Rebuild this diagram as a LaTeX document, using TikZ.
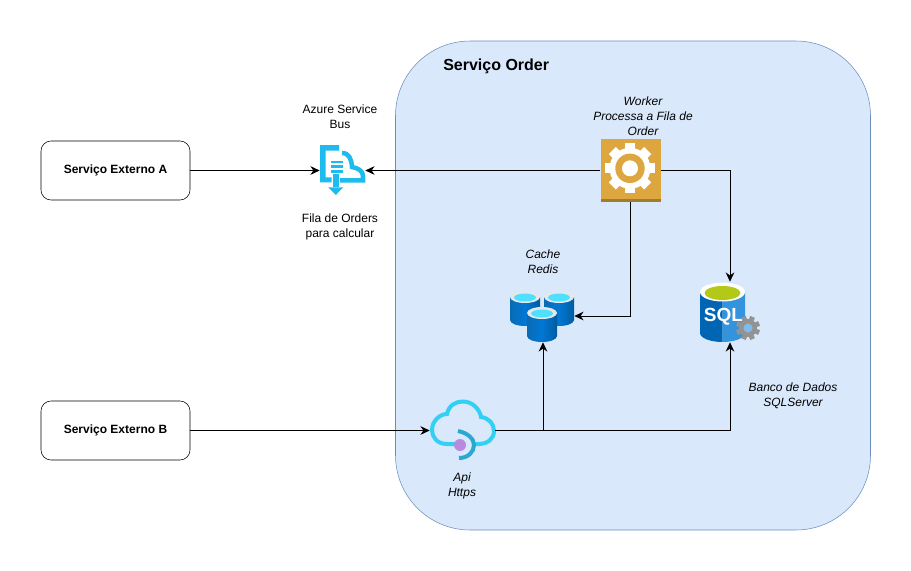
\documentclass[tikz,border=0pt]{standalone}
\usepackage{fontspec}
\setmainfont{Liberation Sans}
\usepackage{tikz}
\usetikzlibrary{arrows.meta}

\definecolor{orderfill}{HTML}{DAE8FC}
\definecolor{orderline}{HTML}{6C8EBF}
\definecolor{busblue}{HTML}{1EBBEE}
\definecolor{workergold}{HTML}{DDA63F}
\definecolor{workerdark}{HTML}{A07C30}
\definecolor{cloudblue}{HTML}{32D0F3}
\definecolor{clouddark}{HTML}{29A8D0}
\definecolor{dbleft}{HTML}{0A6AB5}
\definecolor{dbmid}{HTML}{0078D4}
\definecolor{dbright}{HTML}{005BA1}
\definecolor{dbrim}{HTML}{E4E8EA}
\definecolor{dbtop}{HTML}{50E0FF}
\definecolor{sqltop}{HTML}{B4C818}
\definecolor{apidot}{HTML}{B98AE0}

\tikzset{
	servicebox/.style={draw=black, fill=white, rounded corners=7.5pt, minimum width=111.75pt, minimum height=44.25pt, text depth=2.7pt, font=\fontsize{9}{11}\selectfont\bfseries},
	caption/.style={align=center, inner sep=0pt, font=\fontsize{9}{11.25}\selectfont},
	captionit/.style={caption, font=\fontsize{9}{11.25}\selectfont\itshape},
	flow/.style={draw=black, line width=0.75pt, -{Stealth[length=7pt,width=6.5pt]}}
}

\begin{document}
\begin{tikzpicture}[x=0.75pt, y=-0.75pt]
	\useasboundingbox (0,0) rectangle (911,571);
	\fill [white] (0,0) rectangle (911,571);
	\draw [draw=orderline, fill=orderfill, rounded corners=56pt] (395.5,41) rectangle (870.5,530);
	\node [anchor=west, inner sep=0pt, font=\fontsize{12}{14}\selectfont\bfseries] (ordertitle) at (443,66.5) {Serviço Order};

	% service bus
	\fill [busblue] (320,145) -- (339,145) -- (339,150.7) -- (325.7,150.7) -- (325.7,177.3) -- (331.7,177.3) -- (331.7,182.3) -- (320,182.3) -- cycle;
	\fill [busblue] (330.7,160.7) rectangle (342.7,163.3);
	\fill [busblue] (330.7,165.4) rectangle (342.7,168);
	\fill [busblue] (330.7,170) rectangle (342.7,172.7);
	\fill [busblue] (333.3,174) rectangle (339.3,187.3);
	\fill [busblue] (328.3,187.3) -- (343.3,187.3) -- (335.8,195) -- cycle;
	\draw [busblue, line width=3.4pt] (342,153) .. controls (349,153) and (351.5,159) .. (352,167) .. controls (358,168) and (363,171) .. (363,176) -- (363,180.3) -- (340,180.3);
	\node [minimum width=33.75pt, minimum height=37.5pt, inner sep=0pt] (busicon) at (342.5,170.5) {};

	% worker
	\fill [workergold] (600.5,139) rectangle (660.5,199);
	\fill [workerdark] (600.5,199) rectangle (660.5,202);
	\fill [white] (630,168.3) circle (20.5);
	\foreach \a in {0,45,...,315}
		\fill [white, rotate around={\a:(630,168.3)}] (625,143.3) rectangle (635,155);
	\fill [workergold] (630,168.3) circle (14.7);
	\fill [white] (630,168.3) circle (8);
	\node [minimum width=45pt, minimum height=47.25pt, inner sep=0pt] (workericon) at (630.5,170.5) {};

	% cache
	\foreach \cx/\cy in {510/291, 544/291, 527/307} {
		\shade [left color=dbleft, right color=dbright, middle color=dbmid] (\cx,\cy+6) -- (\cx,\cy+29) arc [start angle=180, end angle=0, x radius=15, y radius=6] -- (\cx+30,\cy+6) -- cycle;
		\fill [dbrim] (\cx+15,\cy+6) circle [x radius=15, y radius=6];
		\fill [dbtop] (\cx+15,\cy+6.5) circle [x radius=11, y radius=4];
	}
	\node [minimum width=46.5pt, minimum height=39pt, inner sep=0pt] (cacheicon) at (543,316) {};

	% sql
	\fill [dbmid!85!black] (700,292) -- (700,333) arc [start angle=180, end angle=90, x radius=22.5, y radius=9] -- (722.5,292) -- cycle;
	\fill [dbmid!80!white] (722.5,292) -- (722.5,342) arc [start angle=90, end angle=0, x radius=22.5, y radius=9] -- (745,292) -- cycle;
	\fill [white] (722.5,292) circle [x radius=22.5, y radius=9.5];
	\fill [sqltop] (722.5,293) circle [x radius=18, y radius=7];
	\node [inner sep=0pt, text=white, font=\fontsize{14.25}{16}\selectfont\bfseries] (sqltext) at (723.5,317) {SQL};
	\fill [gray!85] (748,328) circle (9);
	\foreach \a in {0,45,...,315}
		\fill [gray!85, rotate around={\a+22.5:(748,328)}] (745.5,316) rectangle (750.5,321);
	\fill [dbmid!50!white] (748,328) circle (4.5);
	\node [minimum width=45pt, minimum height=45pt, inner sep=0pt] (sqlicon) at (730,312) {};

	% api
	\draw [cloudblue, line width=3pt] (455,444) -- (447,444) .. controls (437,444) and (432,437) .. (432,430) .. controls (432,421) and (440,414) .. (447,414) .. controls (449,405) and (456,401.5) .. (463,401.5) .. controls (473,401.5) and (480,410) .. (481,417) .. controls (489,418) and (494,424) .. (494,431) .. controls (494,439) and (487,444) .. (480,444) -- (474,444);
	\draw [clouddark, line width=3pt] (458,431) .. controls (468,433) and (474,439) .. (474,445) .. controls (474,452) and (468,458) .. (459,458);
	\fill [apidot] (460,445) circle (6);
	\node [minimum width=48.75pt, minimum height=45pt, inner sep=0pt] (apiicon) at (462.5,430.5) {};

	\node [servicebox] (externoa) at (115.5,170.5) {Serviço Externo A};
	\node [servicebox] (externob) at (115.5,430.5) {Serviço Externo B};

	\node [caption] (buslabel) at (340,116.5) {Azure Service\\Bus};
	\node [caption] (filalabel) at (340,226.5) {Fila de Orders\\para calcular};
	\node [captionit] (workerlabel) at (643,116) {Worker\\Processa a Fila de\\Order};
	\node [captionit] (cachelabel) at (543,261.5) {Cache\\Redis};
	\node [captionit] (sqllabel) at (793,396) {Banco de Dados\\SQLServer};
	\node [captionit] (apilabel) at (462,486) {Api\\Https};

	\draw [flow] (externoa.east) -- (busicon.west);
	\draw [flow] (workericon.west) -- (busicon.east);
	\draw [flow] (workericon.east) -| (sqlicon.north);
	\draw [flow] (workericon.south) |- (cacheicon.east);
	\draw [flow] (externob.east) -- (apiicon.west);
	\draw [flow] (apiicon.east) -| (cacheicon.south);
	\draw [flow] (apiicon.east) -| (sqlicon.south);
\end{tikzpicture}
\end{document}
